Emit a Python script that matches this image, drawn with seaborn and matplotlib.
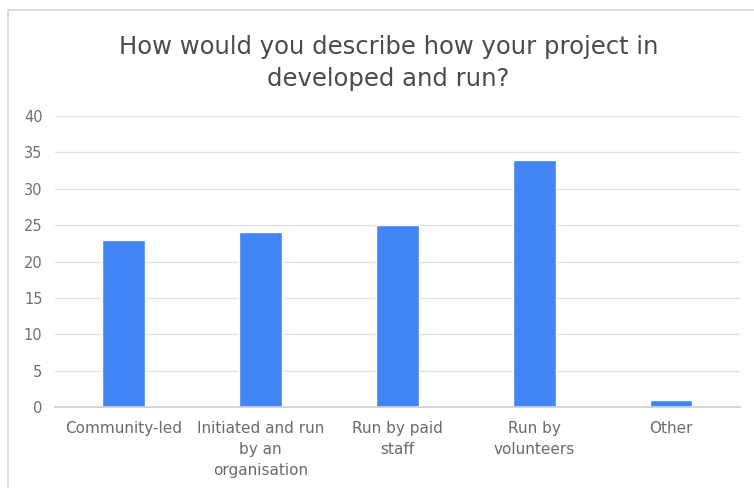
import matplotlib
matplotlib.use("Agg")
import matplotlib.pyplot as plt
import seaborn as sns
import pandas as pd
from matplotlib.patches import Rectangle

categories = ["Community-led", "Initiated and run\nby an\norganisation", "Run by paid\nstaff", "Run by\nvolunteers", "Other"]
values = [23, 24, 25, 34, 1]
yticks = [0, 5, 10, 15, 20, 25, 30, 35, 40]
title = "How would you describe how your project in\ndeveloped and run?"

sns.set_theme(style="white")
plt.rcParams['font.family'] = ['DejaVu Sans']

df = pd.DataFrame({"category": categories, "value": values})

fig = plt.figure(figsize=(7.54, 4.88), dpi=100)
ax = fig.add_axes([0.073, 0.166, 0.908, 0.596])

sns.barplot(data=df, x="category", y="value", color="#4285F4", saturation=1, width=0.31, ax=ax)

ax.set_ylim(0, 40)
ax.set_yticks(yticks)
ax.set_yticklabels([str(t) for t in yticks], color="#707070", fontsize=10.5)
ax.yaxis.grid(True, color="#e2e2e2", linewidth=1)
ax.set_axisbelow(True)
ax.set_xlabel("")
ax.set_ylabel("")
ax.tick_params(axis="x", colors="#6a6a6a", labelsize=11, length=0, pad=10)
ax.tick_params(axis="y", length=0, pad=9)
for lbl in ax.get_xticklabels():
    lbl.set_color("#6a6a6a")
    lbl.set_linespacing(1.5)
for s in ["top", "right", "left"]:
    ax.spines[s].set_visible(False)
ax.spines["bottom"].set_color("#cfcfcf")
ax.set_xlim(-0.5, len(categories) - 0.5)

fig.text(0.515, 0.871, title, ha="center", va="center", fontsize=17.5, color="#4a4a4a", linespacing=1.42)

# thin outer border like the screenshot
fig.add_artist(Rectangle((0.011, -0.01), 1.0, 0.99, transform=fig.transFigure,
                         fill=False, edgecolor="#d5d5d5", linewidth=1.2))

fig.savefig("out.png", dpi=100)
